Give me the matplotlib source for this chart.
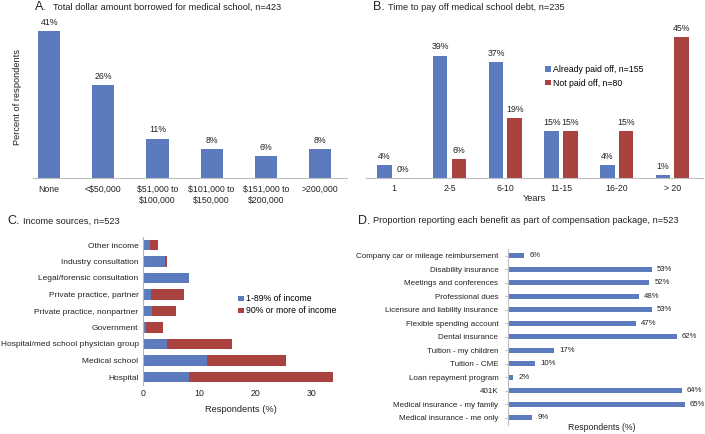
import matplotlib
matplotlib.use('Agg')
import matplotlib.pyplot as plt

plt.rcParams['font.family'] = ['Liberation Sans', 'DejaVu Sans']

BLUE = '#5B7BBE'
RED = '#AA423F'
GREY = '#BFBFBF'
TXT = '#222222'

# A - amount borrowed
borrow_cats = ['None', '<$50,000', '$51,000 to\n$100,000', '$101,000 to\n$150,000',
               '$151,000 to\n$200,000', '>200,000']
borrow_pct = [41, 26, 11, 8, 6, 8]

# B - years to pay off
payoff_cats = ['1', '2-5', '6-10', '11-15', '16-20', '> 20']
paid_off = [4, 39, 37, 15, 4, 1]
not_paid = [0, 6, 19, 15, 15, 45]

# C - income sources (bottom to top)
income_cats = ['Hospital', 'Medical school', 'Hospital/med school physician group',
               'Government', 'Private practice, nonpartner', 'Private practice, partner',
               'Legal/forensic consultation', 'Industry consultation', 'Other income']
income_part = [8.2, 11.5, 4.4, 0.6, 1.7, 1.5, 8.2, 4.0, 1.3]
income_most = [25.5, 13.9, 11.5, 3.0, 4.2, 5.9, 0.0, 0.4, 1.5]

# D - benefits (bottom to top)
benefit_cats = ['Medical insurance - me only', 'Medical insurance - my family', '401K',
                'Loan repayment program', 'Tuition - CME', 'Tuition - my children',
                'Dental insurance', 'Flexible spending account',
                'Licensure and liability insurance', 'Professional dues',
                'Meetings and conferences', 'Disability insurance',
                'Company car or mileage reimbursement']
benefit_pct = [9, 65, 64, 2, 10, 17, 62, 47, 53, 48, 52, 53, 6]

W, H = 705, 434
fig = plt.figure(figsize=(W / 100, H / 100), dpi=100)


def box(left, top, right, bottom):
    return [left / W, 1 - bottom / H, (right - left) / W, (bottom - top) / H]


def head(x1, x2, y, letter, text):
    fig.text(x1 / W, 1 - y / H, letter + '.', fontsize=9, va='center', color=TXT)
    fig.text(x2 / W, 1 - y / H, text, fontsize=6.7, va='center', color=TXT)


fs = 6.3

# ---- A
axA = fig.add_axes(box(33, 16.7, 347, 178))
x = range(len(borrow_cats))
axA.bar(x, borrow_pct, width=0.41, color=BLUE)
for i, v in enumerate(borrow_pct):
    axA.annotate(f'{v}%', (i, v), xytext=(0, 3), textcoords='offset points',
                 ha='center', va='bottom', fontsize=fs, color=TXT)
axA.set_xlim(-0.3, 5.5)
axA.set_ylim(0, 45)
axA.set_xticks(list(x))
axA.set_xticklabels(borrow_cats, fontsize=fs, color=TXT)
axA.set_yticks([])
axA.set_ylabel('Percent of respondents', fontsize=6.7, color=TXT, labelpad=8)
for s in ['top', 'right', 'left']:
    axA.spines[s].set_visible(False)
axA.spines['bottom'].set_color(GREY)
axA.tick_params(axis='x', length=0, pad=5)
head(35, 53, 7.5, 'A', 'Total dollar amount borrowed for medical school, n=423')

# ---- B
axB = fig.add_axes(box(366, 21, 703, 178))
xb = list(range(len(payoff_cats)))
off = 0.167
axB.bar([i - off for i in xb], paid_off, width=0.26, color=BLUE,
        label='Already paid off, n=155')
axB.bar([i + off for i in xb], not_paid, width=0.26, color=RED,
        label='Not paid off, n=80')
for i in xb:
    axB.annotate(f'{paid_off[i]}%', (i - off, paid_off[i]), xytext=(0, 3),
                 textcoords='offset points', ha='center', va='bottom', fontsize=fs, color=TXT)
    axB.annotate(f'{not_paid[i]}%', (i + off, not_paid[i]), xytext=(0, 3),
                 textcoords='offset points', ha='center', va='bottom', fontsize=fs, color=TXT)
axB.set_xlim(-0.5, 5.55)
axB.set_ylim(0, 50)
axB.set_xticks(xb)
axB.set_xticklabels(payoff_cats, fontsize=fs, color=TXT)
axB.set_yticks([])
axB.set_xlabel('Years', fontsize=6.7, color=TXT, labelpad=1)
for s in ['top', 'right', 'left']:
    axB.spines[s].set_visible(False)
axB.spines['bottom'].set_color(GREY)
axB.tick_params(axis='x', length=0, pad=4)
axB.legend(loc='upper left', bbox_to_anchor=(541 / W, 1 - 60.5 / H),
           bbox_transform=fig.transFigure, frameon=False, fontsize=fs,
           handlelength=0.6, handleheight=0.6, handletextpad=0.3, labelspacing=0.55,
           borderpad=0)
head(373, 388, 7.5, 'B', 'Time to pay off medical school debt, n=235')

# ---- C
axC = fig.add_axes(box(142.7, 236.75, 339.9, 385.25))
yc = list(range(len(income_cats)))
axC.barh(yc, income_part, height=0.65, color=BLUE, label='1-89% of income')
axC.barh(yc, income_most, left=income_part, height=0.65, color=RED,
         label='90% or more of income')
axC.set_xlim(0, 35)
axC.set_ylim(-0.5, 8.5)
axC.set_yticks(yc)
axC.set_yticklabels(income_cats, fontsize=6.0, color=TXT)
axC.set_xticks([0, 10, 20, 30])
axC.tick_params(axis='x', labelsize=fs, labelcolor=TXT, length=0, pad=3)
axC.tick_params(axis='y', length=0, pad=3)
axC.set_xlabel('Respondents (%)', fontsize=6.7, color=TXT, labelpad=5)
for s in ['top', 'right', 'bottom']:
    axC.spines[s].set_visible(False)
axC.spines['left'].set_color('#AEB8CC')
axC.legend(loc='upper left', bbox_to_anchor=(234 / W, 1 - 290 / H),
           bbox_transform=fig.transFigure, frameon=False, fontsize=fs,
           handlelength=0.6, handleheight=0.6, handletextpad=0.3, labelspacing=0.35,
           borderpad=0)
head(7, 23, 221, 'C', 'Income sources, n=523')

# ---- D
axD = fig.add_axes(box(508, 249, 698.4, 424.5))
yd = list(range(len(benefit_cats)))
axD.barh(yd, benefit_pct, height=0.4, color=BLUE)
for i, v in enumerate(benefit_pct):
    axD.annotate(f'{v}%', (v, i), xytext=(3.5, 0), textcoords='offset points',
                 ha='left', va='center', fontsize=5.6, color=TXT)
axD.set_xlim(0, 70)
axD.set_ylim(-0.5, 12.5)
axD.set_yticks(yd)
axD.set_yticklabels(benefit_cats, fontsize=5.8, color=TXT)
axD.set_xticks([])
axD.tick_params(axis='y', length=2, color=GREY, pad=5)
for s in ['top', 'right', 'bottom']:
    axD.spines[s].set_visible(False)
axD.spines['left'].set_color(GREY)
fig.text(602 / W, 1 - 427 / H, 'Respondents (%)', fontsize=6.3, color=TXT,
         ha='center', va='center')
head(357.7, 373.3, 221, 'D', 'Proportion reporting each benefit as part of compensation package, n=523')

fig.savefig('out.png', dpi=100)
